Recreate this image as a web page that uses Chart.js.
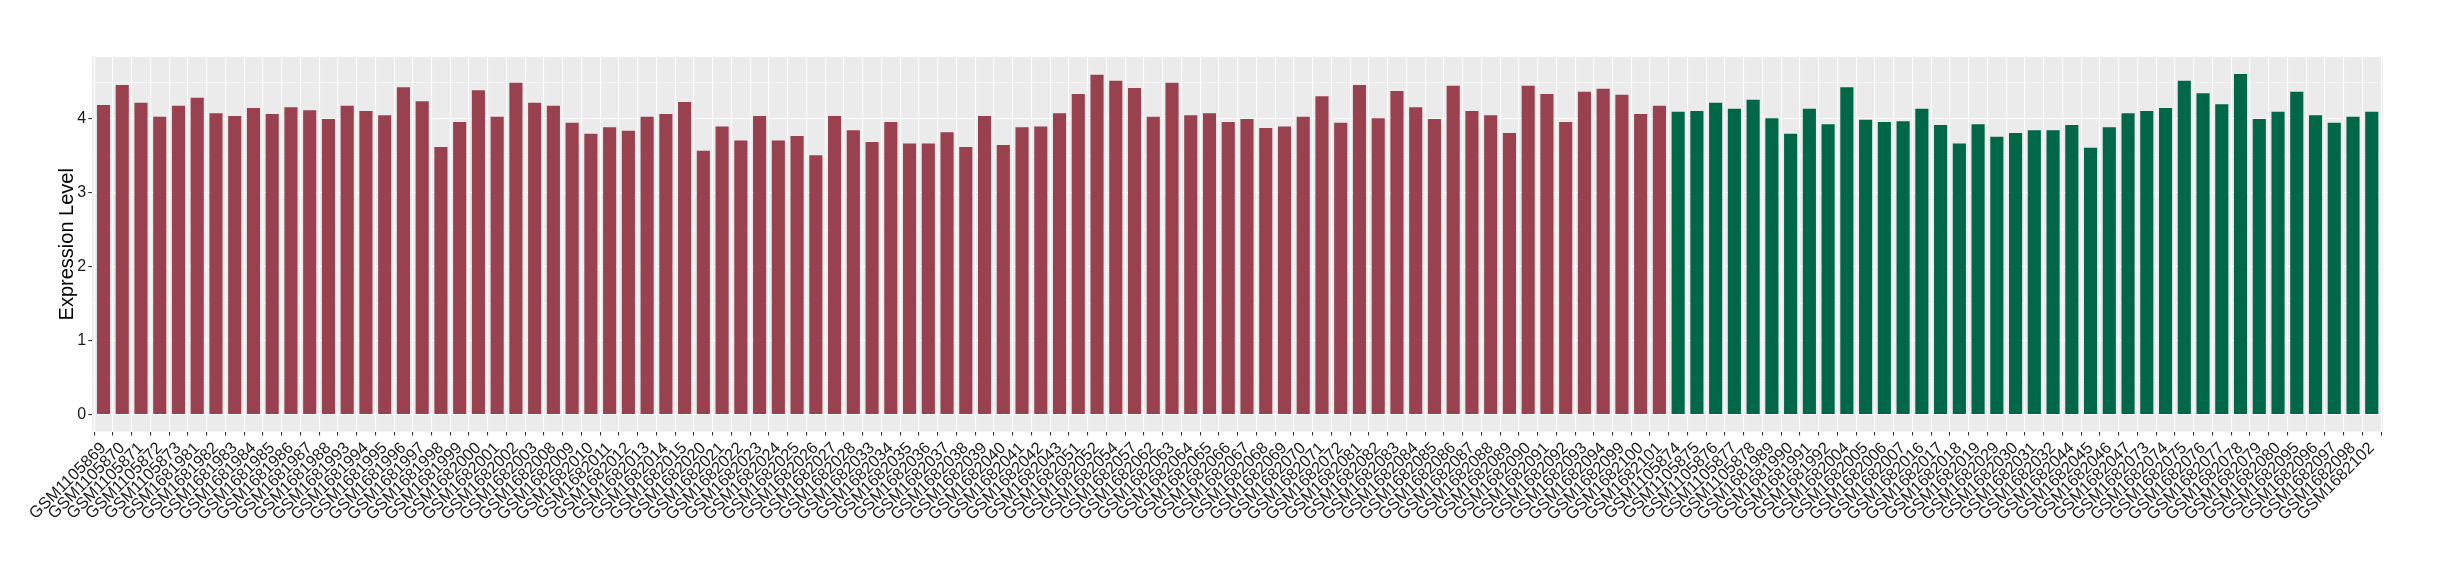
<!DOCTYPE html>
<html>
<head>
<meta charset="utf-8">
<style>
  body { margin: 0; background: #fff; }
  #chart { display: block; }
</style>
<script src="https://cdn.jsdelivr.net/npm/chart.js@4.4.1/dist/chart.umd.min.js"></script>
</head>
<body>
<canvas id="chart" width="2440" height="580"></canvas>
<script>
// Sample ids, first group (red)
const groupA = [
  'GSM1105869', 'GSM1105870', 'GSM1105871', 'GSM1105872', 'GSM1105873',
  'GSM1681981', 'GSM1681982', 'GSM1681983', 'GSM1681984', 'GSM1681985',
  'GSM1681986', 'GSM1681987', 'GSM1681988', 'GSM1681993', 'GSM1681994',
  'GSM1681995', 'GSM1681996', 'GSM1681997', 'GSM1681998', 'GSM1681999',
  'GSM1682000', 'GSM1682001', 'GSM1682002', 'GSM1682003', 'GSM1682008',
  'GSM1682009', 'GSM1682010', 'GSM1682011', 'GSM1682012', 'GSM1682013',
  'GSM1682014', 'GSM1682015', 'GSM1682020', 'GSM1682021', 'GSM1682022',
  'GSM1682023', 'GSM1682024', 'GSM1682025', 'GSM1682026', 'GSM1682027',
  'GSM1682028', 'GSM1682033', 'GSM1682034', 'GSM1682035', 'GSM1682036',
  'GSM1682037', 'GSM1682038', 'GSM1682039', 'GSM1682040', 'GSM1682041',
  'GSM1682042', 'GSM1682043', 'GSM1682051', 'GSM1682052', 'GSM1682054',
  'GSM1682057', 'GSM1682062', 'GSM1682063', 'GSM1682064', 'GSM1682065',
  'GSM1682066', 'GSM1682067', 'GSM1682068', 'GSM1682069', 'GSM1682070',
  'GSM1682071', 'GSM1682072', 'GSM1682081', 'GSM1682082', 'GSM1682083',
  'GSM1682084', 'GSM1682085', 'GSM1682086', 'GSM1682087', 'GSM1682088',
  'GSM1682089', 'GSM1682090', 'GSM1682091', 'GSM1682092', 'GSM1682093',
  'GSM1682094', 'GSM1682099', 'GSM1682100', 'GSM1682101'
];

const valuesA = [
  4.19, 4.46, 4.22, 4.03, 4.18, 4.29, 4.08, 4.04, 4.15, 4.07,
  4.16, 4.12, 4.00, 4.18, 4.11, 4.05, 4.43, 4.24, 3.62, 3.96,
  4.39, 4.03, 4.49, 4.22, 4.18, 3.95, 3.80, 3.89, 3.84, 4.03,
  4.07, 4.23, 3.57, 3.90, 3.71, 4.04, 3.71, 3.77, 3.51, 4.04,
  3.85, 3.69, 3.96, 3.67, 3.67, 3.82, 3.62, 4.04, 3.65, 3.89,
  3.90, 4.08, 4.34, 4.60, 4.52, 4.42, 4.03, 4.49, 4.05, 4.08,
  3.96, 4.00, 3.88, 3.90, 4.03, 4.31, 3.95, 4.46, 4.01, 4.38,
  4.16, 4.00, 4.45, 4.11, 4.05, 3.81, 4.45, 4.34, 3.96, 4.37,
  4.41, 4.33, 4.07, 4.18
];

// Sample ids, second group (green)
const groupB = [
  'GSM1105874', 'GSM1105875', 'GSM1105876', 'GSM1105877', 'GSM1105878',
  'GSM1681989', 'GSM1681990', 'GSM1681991', 'GSM1681992', 'GSM1682004',
  'GSM1682005', 'GSM1682006', 'GSM1682007', 'GSM1682016', 'GSM1682017',
  'GSM1682018', 'GSM1682019', 'GSM1682029', 'GSM1682030', 'GSM1682031',
  'GSM1682032', 'GSM1682044', 'GSM1682045', 'GSM1682046', 'GSM1682047',
  'GSM1682073', 'GSM1682074', 'GSM1682075', 'GSM1682076', 'GSM1682077',
  'GSM1682078', 'GSM1682079', 'GSM1682080', 'GSM1682095', 'GSM1682096',
  'GSM1682097', 'GSM1682098', 'GSM1682102'
];

const valuesB = [
  4.10, 4.11, 4.22, 4.14, 4.26, 4.01, 3.80, 4.14, 3.93, 4.43,
  3.99, 3.96, 3.97, 4.14, 3.92, 3.67, 3.93, 3.76, 3.81, 3.85,
  3.85, 3.92, 3.61, 3.89, 4.08, 4.11, 4.15, 4.52, 4.35, 4.20,
  4.61, 4.00, 4.10, 4.37, 4.05, 3.95, 4.03, 4.10
];

const yTicks = [0, 1, 2, 3, 4];

// ggplot-style limits: 5% expansion on y, 0.6 of a bar slot on x
const yMin = -0.23;
const yMax = 4.84;

const labels = groupA.concat(groupB);
const seriesA = valuesA.map((v, i) => ({ x: i, y: v }));
const seriesB = valuesB.map((v, i) => ({ x: groupA.length + i, y: v }));

const FONT = "'Liberation Sans', Arial, sans-serif";

// grey ggplot-like panel behind the grid
const panelBg = {
  id: 'panelBg',
  beforeDraw(chart) {
    const { ctx, chartArea: a } = chart;
    ctx.save();
    ctx.fillStyle = '#EBEBEB';
    ctx.fillRect(a.left, a.top, a.right - a.left, a.bottom - a.top);
    ctx.restore();
  }
};

const isMajor = v => yTicks.includes(Math.round(v * 100) / 100);

new Chart(document.getElementById('chart'), {
  type: 'bar',
  data: {
    datasets: [
      { data: seriesA, backgroundColor: '#9A4150', grouped: false,
        barPercentage: 0.7, categoryPercentage: 1 },
      { data: seriesB, backgroundColor: '#006747', grouped: false,
        barPercentage: 0.7, categoryPercentage: 1 }
    ]
  },
  options: {
    responsive: false,
    animation: false,
    layout: { padding: { top: 57, right: 57, left: 0, bottom: 0 } },
    plugins: { legend: { display: false }, tooltip: { enabled: false } },
    scales: {
      x: {
        type: 'linear',
        min: -0.6,
        max: labels.length - 0.4,
        offset: false,
        grid: { color: '#FFFFFF', lineWidth: 1.1,
                tickColor: '#333333', tickLength: 4, drawTicks: true },
        border: { display: false },
        ticks: {
          stepSize: 1, includeBounds: false, maxTicksLimit: 500,
          autoSkip: false, maxRotation: 45, minRotation: 45, padding: 3,
          color: '#1A1A1A', font: { family: FONT, size: 16.5 },
          callback: v => labels[v] !== undefined ? labels[v] : ''
        },
        afterFit(scale) { scale.height = 148.5; }
      },
      y: {
        min: yMin,
        max: yMax,
        grid: {
          color: '#FFFFFF',
          lineWidth: ctx => isMajor(ctx.tick.value) ? 1.1 : 0.55,
          tickColor: ctx => isMajor(ctx.tick.value) ? '#333333' : 'rgba(0,0,0,0)',
          tickLength: 4
        },
        border: { display: false },
        ticks: {
          stepSize: 0.5,
          includeBounds: false,
          padding: 2,
          color: '#1A1A1A',
          font: { family: FONT, size: 16 },
          callback: v => isMajor(v) ? String(Math.round(v)) : ''
        },
        title: {
          display: true, text: 'Expression Level', color: '#000000',
          font: { family: FONT, size: 20 }, padding: { top: 55 }
        },
        afterFit(scale) { scale.width = 92.25; }
      }
    }
  },
  plugins: [panelBg]
});
</script>
</body>
</html>
